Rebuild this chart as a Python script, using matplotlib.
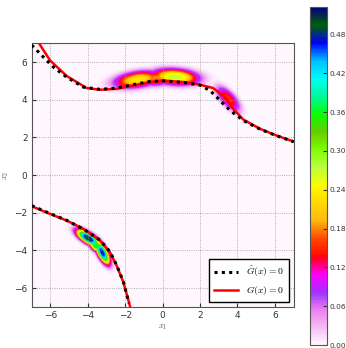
import numpy as np
import matplotlib
matplotlib.use("Agg")
import matplotlib.pyplot as plt

plt.rcParams['mathtext.fontset'] = 'cm'
plt.rcParams['font.size'] = 6.5

# zero-level curves
g_up_x = [-6.61, -6.02, -5.13, -4.06, -3.35, -2.46, -1.57, -0.68, 0.03, 1.10, 1.99, 2.70, 3.42, 3.77, 4.31, 5.20, 6.09, 7.00]
g_up_y = [7.00, 6.09, 5.26, 4.62, 4.53, 4.58, 4.76, 4.94, 5.02, 4.94, 4.80, 4.62, 4.05, 3.52, 2.95, 2.46, 2.10, 1.78]
g_lo_x = [-7.00, -6.02, -5.13, -4.24, -3.35, -2.82, -2.46, -2.10, -1.75]
g_lo_y = [-1.65, -2.06, -2.41, -2.85, -3.47, -4.09, -4.80, -5.68, -6.94]

gh_up_x = [-7.00, -6.38, -5.85, -5.13, -4.24, -3.35, -2.46, -1.57, -0.68, 0.03, 1.10, 1.99, 2.53, 2.89, 3.42, 3.90, 4.40, 5.20, 6.09, 7.00]
gh_up_y = [6.90, 6.27, 5.74, 5.20, 4.67, 4.55, 4.62, 4.80, 4.97, 5.00, 4.92, 4.78, 4.49, 4.14, 3.61, 3.20, 2.85, 2.44, 2.09, 1.77]
gh_lo_x = [-7.00, -6.02, -5.13, -4.24, -3.35, -2.82, -2.46, -2.10, -1.80]
gh_lo_y = [-1.62, -2.04, -2.40, -2.86, -3.45, -4.06, -4.78, -5.66, -6.80]

# density blobs: centre, spread along / across, angle (deg), height
blob_x = [-1.35, -0.35, 0.65, 3.50, -4.00, -3.62, -3.25]
blob_y = [5.08, 5.15, 5.22, 4.05, -3.36, -3.72, -4.12]
blob_a = [0.95, 0.70, 0.95, 0.62, 0.55, 0.32, 0.52]
blob_p = [0.32, 0.30, 0.32, 0.27, 0.21, 0.20, 0.20]
blob_t = [8, 4, -4, -47, -32, -50, -62]
blob_h = [0.23, 0.18, 0.27, 0.155, 0.50, 0.38, 0.48]

xs = np.linspace(-7, 7, 400)
X, Y = np.meshgrid(xs, xs)
Z = np.zeros_like(X)
for cx, cy, sa, sp, th, h in zip(blob_x, blob_y, blob_a, blob_p, blob_t, blob_h):
    t = np.deg2rad(th)
    u = (X - cx) * np.cos(t) + (Y - cy) * np.sin(t)
    v = -(X - cx) * np.sin(t) + (Y - cy) * np.cos(t)
    r2 = (u / sa) ** 2 + (v / sp) ** 2
    Z = np.maximum(Z, h * np.exp(-0.5 * r2 ** 1.3))

fig = plt.figure(figsize=(3.46, 3.48), dpi=100)
ax = fig.add_axes([0.0916, 0.1178, 0.757, 0.758])
cax = fig.add_axes([0.896, 0.0086, 0.049, 0.972])

im = ax.imshow(Z, extent=[-7, 7, -7, 7], origin='lower', cmap='gist_ncar_r',
               vmin=0, vmax=0.523, interpolation='bilinear', aspect='auto')

ax.plot(gh_up_x, gh_up_y, color='black', lw=2.2, dashes=(1, 1.4), zorder=4, label=r'$\hat{G}(x)=0$')
ax.plot(gh_lo_x, gh_lo_y, color='black', lw=2.2, dashes=(1, 1.4), zorder=4)
ax.plot(g_up_x, g_up_y, color='red', lw=1.8, zorder=3, label=r'$G(x)=0$')
ax.plot(g_lo_x, g_lo_y, color='red', lw=1.8, zorder=3)

ax.set_xlim(-7, 7)
ax.set_ylim(-7, 7)
ax.set_xticks([-6, -4, -2, 0, 2, 4, 6])
ax.set_yticks([-6, -4, -2, 0, 2, 4, 6])
ax.grid(True, ls=':', color='#999999', lw=0.6)
ax.tick_params(direction='in', length=3, pad=3, colors='#333333')
for s in ax.spines.values():
    s.set_color('#555555')
ax.set_xlabel(r'$x_1$', fontsize=6, color='#555555', labelpad=2)
ax.set_ylabel(r'$x_2$', fontsize=6, color='#555555', labelpad=2)

leg = ax.legend(loc='lower right', fontsize=7, fancybox=False, framealpha=1,
                handlelength=2.5, borderpad=0.5)
leg.get_frame().set_edgecolor('black')

cb_ticks = [0.00, 0.06, 0.12, 0.18, 0.24, 0.30, 0.36, 0.42, 0.48]
cb = fig.colorbar(im, cax=cax)
cb.set_ticks(cb_ticks, labels=['%.2f' % v for v in cb_ticks])
cb.ax.tick_params(direction='in', length=3, labelsize=5.3, pad=1.5, colors='#333333')
cb.outline.set_edgecolor('#555555')

fig.savefig('out.png', dpi=100)
